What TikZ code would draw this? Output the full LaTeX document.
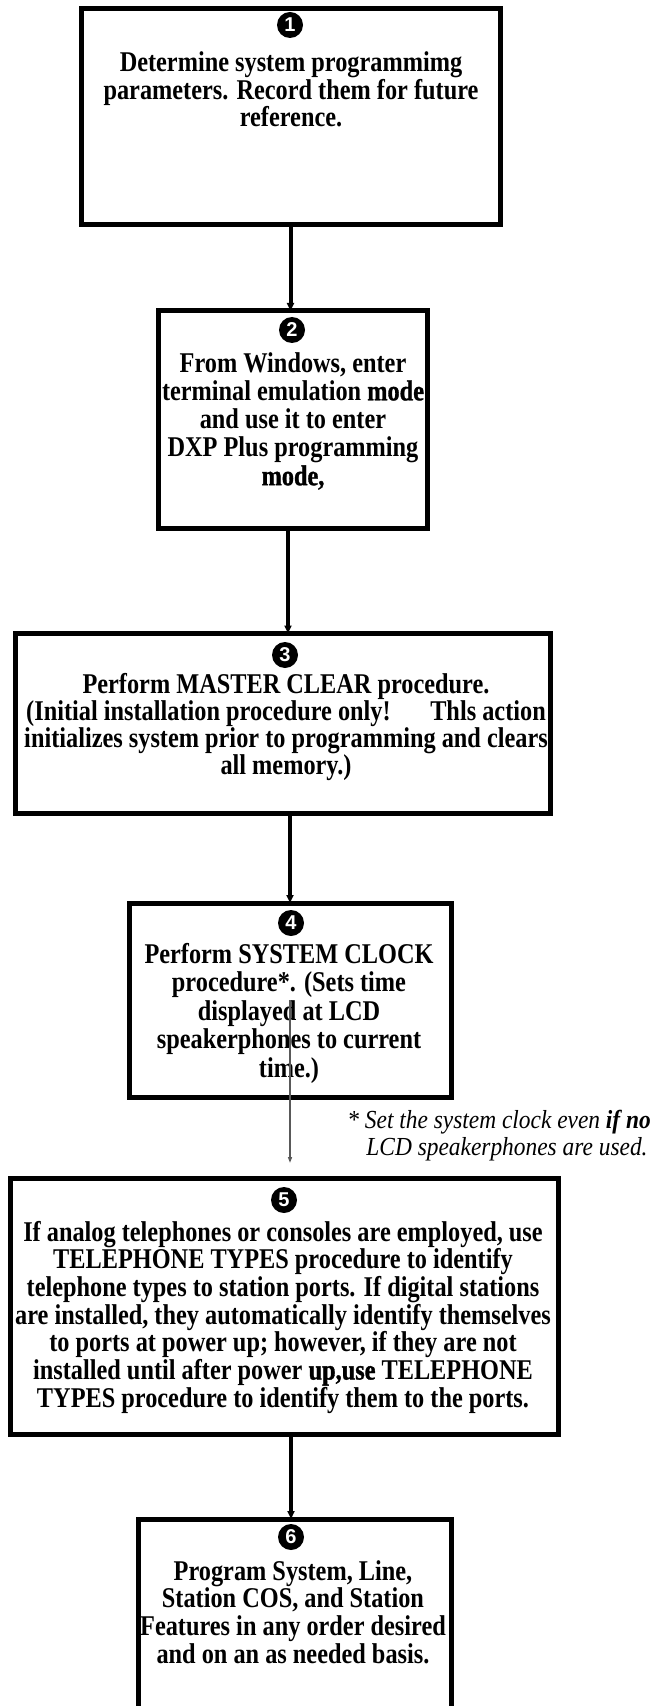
\documentclass[tikz,border=0pt]{standalone}
\usepackage{fontspec}
\usetikzlibrary{arrows.meta}
\newfontfamily\bx[FakeStretch=0.85]{Liberation Serif}
\newfontfamily\bxh[FakeStretch=0.85,FakeBold=1.2]{Liberation Serif}
\newfontfamily\fnf[FakeStretch=0.9]{Liberation Serif}
\newfontfamily\numf{Liberation Sans}
\newcommand\heavy[1]{{\bxh\bfseries #1}}
\begin{document}
\begin{tikzpicture}[x=0.5pt,y=-0.5pt,
  box/.style={draw, line width=2.5pt, rectangle, inner sep=0pt, outer sep=0pt},
  txt/.style={inner sep=0pt, anchor=base, font=\bx\bfseries\fontsize{14.3pt}{14pt}\selectfont},
  num/.style={circle, fill=black, text=white, inner sep=0pt, minimum size=13pt, font=\numf\bfseries\fontsize{10pt}{10pt}\selectfont},
  arr/.style={line width=2pt, -{Triangle[length=4pt,width=3.5pt]}},
  thinarr/.style={line width=0.7pt, draw=black!65, -{Triangle[length=3pt,width=2pt]}, shorten >=7.5pt},
  fn/.style={inner sep=0pt, anchor=base west, font=\fnf\itshape\fontsize{13pt}{13pt}\selectfont}]
\useasboundingbox (0,0) rectangle (652,1706);
\fill[white] (0,0) rectangle (652,1706);
\clip (0,0) rectangle (652,1706);

% boxes
\node[box, minimum width=209.5pt, minimum height=108pt] (b1) at (290.5,117) {};
\node[box, minimum width=134.25pt, minimum height=108.5pt] (b2) at (292.75,419.5) {};
\node[box, minimum width=267.5pt, minimum height=89.75pt] (b3) at (282.5,723.25) {};
\node[box, minimum width=161pt, minimum height=97pt] (b4) at (290,1000) {};
\node[box, minimum width=274pt, minimum height=128pt] (b5) at (284,1306) {};
\node[box, minimum width=156.75pt, minimum height=121pt] (b6) at (294.75,1640) {};

% step numbers
\node[num] (n1) at (290,25) {1};
\node[num] (n2) at (292,330) {2};
\node[num] (n3) at (285,655) {3};
\node[num] (n4) at (291,923) {4};
\node[num] (n5) at (284,1200) {5};
\node[num] (n6) at (291,1537) {6};

% texts
\foreach \t [count=\i from 0] in {{Determine system programmimg},{parameters. Record them for future},{reference.}}
  \node[txt] (t1-\i) at (291,{72+27.5*\i}) {\t};
\begin{scope}
\clip (b2.north west) rectangle (b2.south east);
\foreach \t [count=\i from 0] in {{From Windows, enter},{terminal emulation \heavy{mode}},{and use it to enter},{DXP Plus programming},{\heavy{mode,}}}
  \node[txt] (t2-\i) at (293,{372+28.3*\i}) {\t};
\end{scope}
\begin{scope}
\clip (b3.north west) rectangle (b3.south east);
\foreach \t [count=\i from 0] in {{Perform MASTER CLEAR procedure.},{(Initial installation procedure only!\hspace{1.1em} Thls action},{initializes system prior to programming and clears},{all memory.)}}
  \node[txt] (t3-\i) at (286,{693+27.3*\i}) {\t};
\end{scope}
\foreach \t [count=\i from 0] in {{Perform SYSTEM CLOCK},{procedure*. (Sets time},{displayed at LCD},{speakerphones to current},{time.)}}
  \node[txt] (t4-\i) at (289,{963+28.5*\i}) {\t};
\foreach \t [count=\i from 0] in {{If analog telephones or consoles are employed, use},{TELEPHONE TYPES procedure to identify},{telephone types to station ports. If digital stations},{are installed, they automatically identify themselves},{to ports at power up; however, if they are not},{installed until after power \heavy{up,use} TELEPHONE},{TYPES procedure to identify them to the ports.}}
  \node[txt] (t5-\i) at (283,{1241+27.7*\i}) {\t};
\foreach \t [count=\i from 0] in {{Program System, Line,},{Station COS, and Station},{Features in any order desired},{and on an as needed basis.}}
  \node[txt] (t6-\i) at (293,{1580+27.7*\i}) {\t};

% redraw borders of clipped boxes on top
\draw[line width=2.5pt] (b2.north west) rectangle (b2.south east);
\draw[line width=2.5pt] (b3.north west) rectangle (b3.south east);

% footnote
\node[fn] (f1) at (347,1128) {* Set the system clock even {\bfseries if no}};
\node[fn] (f2) at (366,1155) {LCD speakerphones are used.};

% connectors
\coordinate (x2) at (288,0);
\coordinate (x6) at (291,0);
\draw[arr] (b1.south) -- (b1.south |- b2.north);
\draw[arr] (b2.south -| x2) -- (b3.north -| x2);
\draw[arr] (b3.south -| b4.north) -- (b4.north);
\draw[thinarr] (b4.center) -- (b4.center |- b5.north);
\draw[arr] (b5.south -| x6) -- (b6.north -| x6);
\end{tikzpicture}
\end{document}
